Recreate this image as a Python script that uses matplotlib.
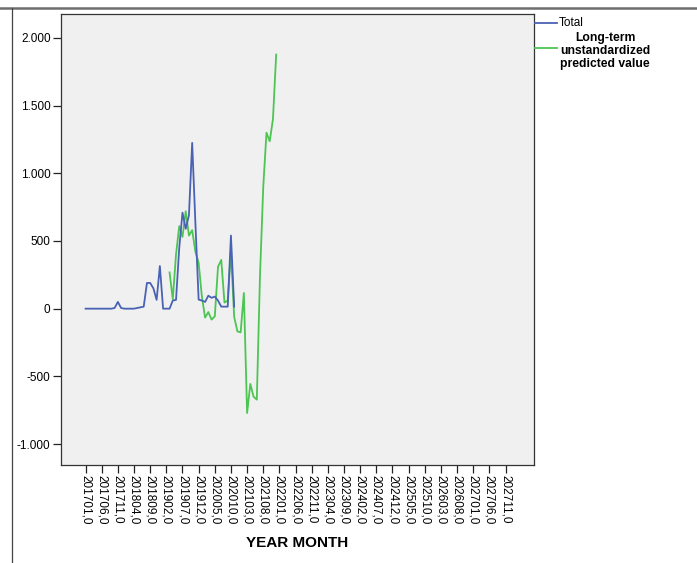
import matplotlib
matplotlib.use("Agg")
import matplotlib.pyplot as plt
from matplotlib.lines import Line2D

plt.rcParams['font.family'] = ['Liberation Sans', 'DejaVu Sans']

# Category labels (year-month), shown every 5 months
tick_labels = ["201701,0", "201706,0", "201711,0", "201804,0", "201809,0", "201902,0",
               "201907,0", "201912,0", "202005,0", "202010,0", "202103,0", "202108,0",
               "202201,0", "202206,0", "202211,0", "202304,0", "202309,0", "202402,0",
               "202407,0", "202412,0", "202505,0", "202510,0", "202603,0", "202608,0",
               "202701,0", "202706,0", "202711,0"]
tick_months = [0, 5, 10, 15, 20, 25, 30, 35, 40, 45, 50, 55, 60, 65, 70, 75, 80,
               85, 90, 95, 100, 105, 110, 115, 120, 125, 130]

# Total series (month index 0 = 201701)
total_months = list(range(0, 47))
total_values = [0, 0, 0, 0, 0, 0, 0, 0, 0, 5, 50, 5, 0, 0, 0, 0, 5, 10,
                15, 190, 190, 150, 65, 315, 0, 0, 0, 60, 65, 450,
                710, 590, 690, 1225, 630, 67, 60, 50, 96, 80, 89, 60,
                15, 15, 15, 540, 15]

# Long-term unstandardized predicted value series
pred_months = list(range(26, 60))
pred_values = [268, 70, 400, 610, 530, 720, 540, 580, 420, 340,
               90, -66, -25, -81, -57, 310, 360, 45, 60, 420,
               -60, -168, -175, 116, -771, -556, -650, -672, 250, 900,
               1300, 1237, 1400, 1877]

ytick_values = [-1000, -500, 0, 500, 1000, 1500, 2000]
ytick_labels = ["-1.000", "-500", "0", "500", "1.000", "1.500", "2.000"]

W, H = 697, 563
fig = plt.figure(figsize=(W / 100, H / 100), dpi=100)
fig.patch.set_facecolor('white')

left, right, top, bottom = 61, 534, 14, 465
ax = fig.add_axes([left / W, 1 - bottom / H, (right - left) / W, (bottom - top) / H])
ax.set_facecolor('#f0f0f0')

blue = '#4a62b4'
green = '#4cc553'
ax.plot(total_months, total_values, color=blue, lw=1.3, label='Total', zorder=3)
ax.plot(pred_months, pred_values, color=green, lw=1.3, zorder=2,
        label='Long-term\nunstandardized\npredicted value')

ax.set_xlim(-7.6, 138.8)
ax.set_ylim(-1155, 2177)

ax.set_xticks(tick_months)
ax.set_xticklabels(tick_labels, rotation=270, fontsize=8.5, va='top', ha='center')
ax.set_yticks(ytick_values)
ax.set_yticklabels(ytick_labels, fontsize=8.5)
ax.tick_params(axis='both', direction='out', length=6, width=0.9, color='#222222', pad=1.5)

for s in ax.spines.values():
    s.set_color('#333333')
    s.set_linewidth(0.9)

ax.set_xlabel('YEAR MONTH', fontsize=11, fontweight='bold', labelpad=8)

# Legend drawn outside the plot area, at the right
def fx(px):
    return px / W

def fy(py):
    return 1 - py / H

fig.add_artist(Line2D([fx(535), fx(557)], [fy(22.5), fy(22.5)], color=blue, lw=1.3))
fig.text(fx(559), fy(22.5), 'Total', fontsize=8.5, va='center', ha='left')
fig.add_artist(Line2D([fx(535), fx(557)], [fy(48), fy(48)], color=green, lw=1.3))
fig.text(fx(605), fy(51), 'Long-term\nunstandardized\npredicted value', fontsize=8.7,
         fontweight='bold', va='center', ha='center', linespacing=1.15)

# Outer frame lines
fig.add_artist(Line2D([0, 1], [fy(8), fy(8)], color='#6e6e6e', lw=1.8))
fig.add_artist(Line2D([fx(12), fx(12)], [fy(8), 0], color='#444444', lw=0.9))

fig.savefig('out.png', dpi=100)
